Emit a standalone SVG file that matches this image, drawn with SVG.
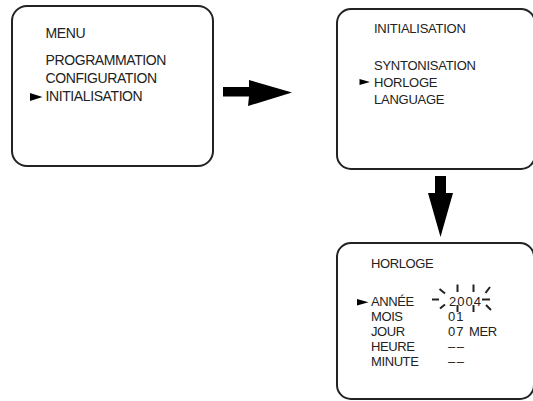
<svg xmlns="http://www.w3.org/2000/svg" width="533" height="401" viewBox="0 0 533 401">
<style>
.box{fill:#fff;stroke:#222;stroke-width:2}
.t{font-family:"Liberation Sans",Arial,sans-serif;fill:#222}
.a{font-size:14px;letter-spacing:-0.4px}
.b{font-size:13px;letter-spacing:-0.25px}
.c{font-size:13px;letter-spacing:-0.4px}
.v{font-size:13px;letter-spacing:1px}
.ray{stroke:#222;stroke-width:2;stroke-linecap:butt}
.arr{fill:#000}
</style>
<rect width="533" height="401" fill="#fff"/>
<g id="menu">
<rect class="box" x="12" y="6" width="201" height="160" rx="15"/>
<text class="t a" x="45.5" y="37.5">MENU</text>
<text class="t a" x="45.5" y="64.5">PROGRAMMATION</text>
<text class="t a" x="45.5" y="82.5">CONFIGURATION</text>
<polygon class="arr" points="30,93 42.5,97 30,101"/>
<text class="t a" x="45.5" y="100.5">INITIALISATION</text>
</g>
<g id="initialisation">
<rect class="box" x="337" y="9" width="198" height="160" rx="14"/>
<text class="t b" x="374" y="32.5">INITIALISATION</text>
<text class="t b" x="374" y="69.5">SYNTONISATION</text>
<polygon class="arr" points="359.5,79 370,82 359.5,85"/>
<text class="t b" x="374" y="86.5">HORLOGE</text>
<text class="t b" x="374" y="104">LANGUAGE</text>
</g>
<g id="horloge">
<rect class="box" x="337" y="243" width="197" height="156" rx="14"/>
<text class="t c" x="371" y="267.5">HORLOGE</text>
<polygon class="arr" points="357,299 368.5,302.3 357,305.5"/>
<text class="t c" x="371" y="306">ANNÉE</text>
<text class="t c" x="371" y="321">MOIS</text>
<text class="t c" x="371" y="336">JOUR</text>
<text class="t c" x="371" y="351">HEURE</text>
<text class="t c" x="371" y="366">MINUTE</text>
<text class="t v" x="449" y="306">2004</text>
<text class="t v" x="448" y="321">01</text>
<text class="t v" x="448" y="336">07 <tspan letter-spacing="-0.4">MER</tspan></text>
<text class="t" font-size="13" x="448" y="351" letter-spacing="-1">– –</text>
<text class="t" font-size="13" x="448" y="366" letter-spacing="-1">– –</text>
<g id="blink">
<line class="ray" x1="432" y1="299.5" x2="439" y2="299.5"/>
<line class="ray" x1="482" y1="299.5" x2="490" y2="299.5"/>
<line class="ray" x1="439.5" y1="289" x2="445" y2="293.5"/>
<line class="ray" x1="490" y1="287" x2="485.5" y2="293"/>
<line class="ray" x1="457.5" y1="284.5" x2="457.5" y2="292"/>
<line class="ray" x1="473.5" y1="284.5" x2="473.5" y2="292"/>
<line class="ray" x1="440" y1="308.5" x2="445" y2="304.5"/>
<line class="ray" x1="486" y1="305" x2="491" y2="310"/>
<line class="ray" x1="457.5" y1="305" x2="457.5" y2="312"/>
<line class="ray" x1="473.5" y1="305" x2="473.5" y2="312"/>
</g>
</g>
<g id="connectors">
<polygon class="arr" points="223,87 249,87 249,80 292,92.5 248,106 249,96.5 223,96.5"/>
<polygon class="arr" points="435,176 446,176 446,193 453,193 440.5,237 428,193 435,193"/>
</g>
</svg>
